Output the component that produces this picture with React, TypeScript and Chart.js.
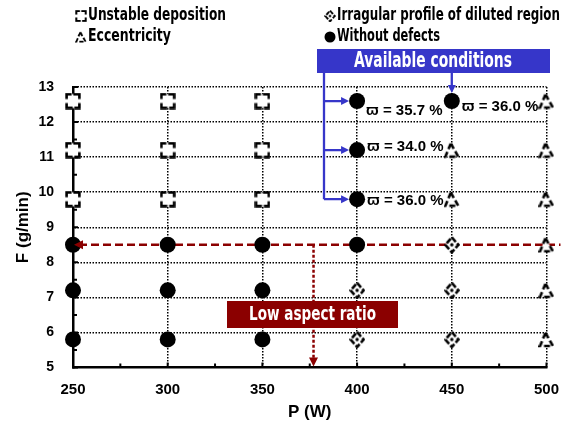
import { useEffect, useRef } from "react";
import { Chart, registerables } from "chart.js";

Chart.register(...registerables);

// ---------- data ----------
const powerTicks = [250, 300, 350, 400, 450, 500];
const feedTicks = [5, 6, 7, 8, 9, 10, 11, 12, 13];

const unstableP = [250, 250, 250, 300, 300, 300, 350, 350, 350];
const unstableF = [9.8, 11.2, 12.6, 9.8, 11.2, 12.6, 9.8, 11.2, 12.6];

const eccentricP = [450, 450, 500, 500, 500, 500, 500, 500];
const eccentricF = [9.8, 11.2, 5.8, 7.2, 8.5, 9.8, 11.2, 12.6];

const irregularP = [400, 400, 450, 450, 450];
const irregularF = [5.8, 7.2, 5.8, 7.2, 8.5];

const noDefectP = [250, 250, 250, 300, 300, 300, 350, 350, 350, 400, 400, 400, 400, 450];
const noDefectF = [5.8, 7.2, 8.5, 5.8, 7.2, 8.5, 5.8, 7.2, 8.5, 8.5, 9.8, 11.2, 12.6, 12.6];

const seriesLabels = [
  "Unstable deposition",
  "Eccentricity",
  "Irragular profile of diluted region",
  "Without defects",
];

const ratioLabels = ["ϖ = 35.7 %", "ϖ = 36.0 %", "ϖ = 34.0 %", "ϖ = 36.0 %"];
const ratioP = [400, 450, 400, 400];
const ratioF = [12.6, 12.6, 11.2, 9.8];

const lowRatioF = 8.5;
const lowRatioP = 377;

// ---------- styles ----------
const DARK_RED = "#8b0000";
const BLUE = "#3636c9";
const ARIAL = '"Liberation Sans", Arial, sans-serif';
const NARROW = '"Liberation Sans Narrow", "DejaVu Sans Condensed", "Liberation Sans", sans-serif';

function toPoints(xs: number[], ys: number[]) {
  return xs.map((v, i) => ({ x: v, y: ys[i] }));
}

function makeCanvas(w: number, h: number) {
  const c = document.createElement("canvas");
  c.width = w;
  c.height = h;
  return c;
}

function makeSquare() {
  const w = 16, h = 17;
  const c = makeCanvas(w, h);
  const g = c.getContext("2d")!;
  g.fillStyle = "#fff";
  g.fillRect(1.5, 1.5, w - 3, h - 3);
  g.strokeStyle = "#000";
  g.lineWidth = 2.6;
  const l = 1.6, t = 1.6, r = w - 1.6, b = h - 1.6, a = 5;
  g.beginPath();
  g.moveTo(l + a, t); g.lineTo(l, t); g.lineTo(l, t + a);
  g.moveTo(r - a - 1, t); g.lineTo(r, t); g.lineTo(r, t + a);
  g.moveTo(l, b - a); g.lineTo(l, b); g.lineTo(l + a + 1, b);
  g.moveTo(r, b - a); g.lineTo(r, b); g.lineTo(r - a, b);
  g.stroke();
  return c;
}

function makeDiamond() {
  const w = 16, h = 18;
  const c = makeCanvas(w, h);
  const g = c.getContext("2d")!;
  g.beginPath();
  g.moveTo(w / 2, 1.5); g.lineTo(w - 1.5, h / 2); g.lineTo(w / 2, h - 1.5); g.lineTo(1.5, h / 2); g.closePath();
  g.fillStyle = "#fff";
  g.fill();
  g.strokeStyle = "#000";
  g.lineWidth = 2.6;
  g.setLineDash([6, 2]);
  g.stroke();
  g.setLineDash([]);
  g.beginPath();
  g.arc(w / 2, h / 2, 1.7, 0, Math.PI * 2);
  g.fillStyle = "#000";
  g.fill();
  return c;
}

function makeTriangle() {
  const w = 16, h = 17;
  const c = makeCanvas(w, h);
  const g = c.getContext("2d")!;
  g.beginPath();
  g.moveTo(w / 2 - 1, 1.8); g.lineTo(w - 1.6, h - 2); g.lineTo(1.6, h - 2); g.closePath();
  g.fillStyle = "#fff";
  g.fill();
  g.strokeStyle = "#000";
  g.lineWidth = 2.6;
  g.setLineDash([6, 3]);
  g.stroke();
  return c;
}

function fitText(
  ctx: CanvasRenderingContext2D, text: string, x: number, y: number,
  size: number, width: number, align: CanvasTextAlign, color: string
) {
  ctx.save();
  ctx.font = `bold ${size}px ${NARROW}`;
  const m = ctx.measureText(text).width;
  const sx = width / m;
  ctx.translate(x, y);
  ctx.scale(sx, 1);
  ctx.textAlign = align;
  ctx.textBaseline = "middle";
  ctx.fillStyle = color;
  ctx.fillText(text, 0, 0);
  ctx.restore();
}

function arrowHead(ctx: CanvasRenderingContext2D, tx: number, ty: number, dir: "left" | "right" | "down", len: number, half: number, color: string) {
  ctx.save();
  ctx.fillStyle = color;
  ctx.beginPath();
  if (dir === "left") {
    ctx.moveTo(tx, ty); ctx.lineTo(tx + len, ty - half); ctx.lineTo(tx + len, ty + half);
  } else if (dir === "right") {
    ctx.moveTo(tx, ty); ctx.lineTo(tx - len, ty - half); ctx.lineTo(tx - len, ty + half);
  } else {
    ctx.moveTo(tx, ty); ctx.lineTo(tx - half, ty - len); ctx.lineTo(tx + half, ty - len);
  }
  ctx.closePath();
  ctx.fill();
  ctx.restore();
}

export default function App() {
  const ref = useRef<HTMLCanvasElement | null>(null);

  useEffect(() => {
    if (!ref.current) return;
    const sq = makeSquare();
    const di = makeDiamond();
    const tr = makeTriangle();

    const plugin = {
      id: "annotations",
      beforeDatasetsDraw(chart: any) {
        const { ctx, chartArea } = chart;
        const xs = chart.scales.x, ys = chart.scales.y;
        ctx.save();
        // inward ticks
        ctx.strokeStyle = "#000";
        ctx.lineWidth = 2;
        ctx.setLineDash([]);
        ctx.beginPath();
        for (let i = 0; i < feedTicks.length * 2 - 1; i++) {
          const v = feedTicks[0] + i * 0.5;
          const py = ys.getPixelForValue(v);
          const len = i % 2 === 0 ? 5 : 4;
          ctx.moveTo(chartArea.left, py);
          ctx.lineTo(chartArea.left + len, py);
        }
        for (let i = 0; i < powerTicks.length * 2 - 1; i++) {
          const v = powerTicks[0] + i * 25;
          const px = xs.getPixelForValue(v);
          const len = i % 2 === 0 ? 5 : 4;
          ctx.moveTo(px, chartArea.bottom);
          ctx.lineTo(px, chartArea.bottom - len);
        }
        ctx.stroke();

        // dark red dashed horizontal line
        const yr = ys.getPixelForValue(lowRatioF);
        ctx.strokeStyle = DARK_RED;
        ctx.lineWidth = 2.5;
        ctx.setLineDash([8, 4]);
        ctx.beginPath();
        ctx.moveTo(xs.getPixelForValue(powerTicks[0]) + 6, yr);
        ctx.lineTo(chartArea.right + 14, yr);
        ctx.stroke();

        // vertical dotted line
        const xr = xs.getPixelForValue(lowRatioP);
        ctx.setLineDash([3, 2]);
        ctx.beginPath();
        ctx.moveTo(xr, yr);
        ctx.lineTo(xr, chartArea.bottom - 7);
        ctx.stroke();
        ctx.restore();
      },
      afterDatasetsDraw(chart: any) {
        const { ctx, chartArea } = chart;
        const xs = chart.scales.x, ys = chart.scales.y;
        const yr = ys.getPixelForValue(lowRatioF);
        const xr = xs.getPixelForValue(lowRatioP);
        arrowHead(ctx, xs.getPixelForValue(powerTicks[0]) + 1, yr, "left", 9, 4.5, DARK_RED);
        arrowHead(ctx, xr, chartArea.bottom - 1, "down", 9, 4.5, DARK_RED);

        // Low aspect ratio box
        ctx.save();
        ctx.fillStyle = DARK_RED;
        ctx.fillRect(227, 301, 171, 27);
        ctx.restore();
        fitText(ctx, "Low aspect ratio", 312.5, 314.5, 20, 127, "center", "#fff");

        // Available conditions box
        ctx.save();
        ctx.fillStyle = BLUE;
        ctx.fillRect(317, 49, 233, 24);
        ctx.restore();
        fitText(ctx, "Available conditions", 433, 61.5, 21, 158, "center", "#fff");

        // blue arrows
        const x400 = xs.getPixelForValue(ratioP[0]);
        const x450 = xs.getPixelForValue(ratioP[1]);
        const trunkX = 324;
        ctx.save();
        ctx.strokeStyle = BLUE;
        ctx.lineWidth = 2.3;
        ctx.beginPath();
        ctx.moveTo(trunkX, 73);
        ctx.lineTo(trunkX, ys.getPixelForValue(ratioF[3]));
        for (const f of [ratioF[0], ratioF[2], ratioF[3]]) {
          const py = ys.getPixelForValue(f);
          ctx.moveTo(trunkX, py);
          ctx.lineTo(x400 - 14, py);
        }
        ctx.moveTo(x450, 73);
        ctx.lineTo(x450, ys.getPixelForValue(ratioF[1]) - 15);
        ctx.stroke();
        ctx.restore();
        for (const f of [ratioF[0], ratioF[2], ratioF[3]]) {
          arrowHead(ctx, x400 - 8, ys.getPixelForValue(f), "right", 8, 4, BLUE);
        }
        arrowHead(ctx, x450, ys.getPixelForValue(ratioF[1]) - 8, "down", 8, 4, BLUE);

        // ratio labels
        const offs = [[9, 10], [10, 6], [10, -3], [10, 2]];
        ctx.save();
        ctx.fillStyle = "#000";
        ctx.font = `bold 15px ${ARIAL}`;
        ctx.textAlign = "left";
        ctx.textBaseline = "middle";
        ratioLabels.forEach((t, i) => {
          ctx.fillText(t, xs.getPixelForValue(ratioP[i]) + offs[i][0], ys.getPixelForValue(ratioF[i]) + offs[i][1]);
        });
        ctx.restore();

        // legend
        const legend = [
          { icon: sq, x: 81, y: 16, tx: 88, w: 138 },
          { icon: tr, x: 81, y: 37, tx: 88, w: 83 },
          { icon: di, x: 330, y: 16, tx: 337, w: 223 },
          { icon: null, x: 330, y: 37, tx: 337, w: 103 },
        ];
        legend.forEach((l, i) => {
          if (l.icon) {
            const s = 0.72;
            const w = l.icon.width * s, h = l.icon.height * s;
            ctx.drawImage(l.icon, l.x - w / 2, l.y - h / 2, w, h);
          } else {
            ctx.save();
            ctx.fillStyle = "#000";
            ctx.beginPath();
            ctx.arc(l.x, l.y, 5.5, 0, Math.PI * 2);
            ctx.fill();
            ctx.restore();
          }
          fitText(ctx, seriesLabels[i], l.tx, l.y, 17, l.w, "left", "#000");
        });
      },
    };

    const gridColor = (first: number) => (c: any) =>
      c.tick && c.tick.value === first ? "rgba(0,0,0,0)" : "#000";

    const chart = new Chart(ref.current, {
      type: "scatter",
      data: {
        datasets: [
          {
            label: seriesLabels[3],
            data: toPoints(noDefectP, noDefectF),
            pointStyle: "circle",
            pointRadius: 8,
            backgroundColor: "#000",
            borderColor: "#000",
            borderWidth: 0,
            clip: false as any,
          },
          {
            label: seriesLabels[0],
            data: toPoints(unstableP, unstableF),
            pointStyle: sq as any,
            pointRadius: 7,
            clip: false as any,
          },
          {
            label: seriesLabels[2],
            data: toPoints(irregularP, irregularF),
            pointStyle: di as any,
            pointRadius: 7,
            clip: false as any,
          },
          {
            label: seriesLabels[1],
            data: toPoints(eccentricP, eccentricF),
            pointStyle: tr as any,
            pointRadius: 7,
            clip: false as any,
          },
        ],
      },
      options: {
        responsive: false,
        animation: false,
        devicePixelRatio: 1,
        layout: { padding: { top: 87, right: 24, left: 0, bottom: 0 } },
        plugins: { legend: { display: false }, tooltip: { enabled: false } },
        scales: {
          x: {
            type: "linear",
            min: powerTicks[0],
            max: powerTicks[powerTicks.length - 1],
            ticks: {
              stepSize: 50,
              color: "#000",
              padding: 13,
              font: { family: ARIAL, size: 15, weight: "bold" },
            },
            grid: { color: gridColor(powerTicks[0]), lineWidth: 1.5, drawTicks: false },
            border: { display: true, color: "#000", width: 2.5, dash: [1.5, 1.5] },
            title: {
              display: true,
              text: "P (W)",
              color: "#000",
              font: { family: ARIAL, size: 17, weight: "bold" },
              padding: { top: 0, bottom: 5 },
            },
            afterFit: (s: any) => { s.height = 60.5; },
          },
          y: {
            type: "linear",
            min: feedTicks[0],
            max: feedTicks[feedTicks.length - 1],
            ticks: {
              stepSize: 1,
              color: "#000",
              padding: 19,
              font: { family: ARIAL, size: 14, weight: "bold" },
            },
            grid: { color: gridColor(feedTicks[0]), lineWidth: 1.5, drawTicks: false },
            border: { display: true, color: "#000", width: 2.5, dash: [1.5, 1.5] },
            title: {
              display: true,
              text: "F (g/min)",
              color: "#000",
              font: { family: ARIAL, size: 17, weight: "bold" },
              padding: { top: 13, bottom: 0 },
            },
            afterFit: (s: any) => { s.width = 73; },
          },
        },
      } as any,
      plugins: [plugin],
    });
    return () => chart.destroy();
  }, []);

  return (
    <div style={{ position: "fixed", left: 0, top: 0, width: 572, height: 428, background: "#fff" }}>
      <canvas ref={ref} width={572} height={428} style={{ display: "block" }} />
    </div>
  );
}
